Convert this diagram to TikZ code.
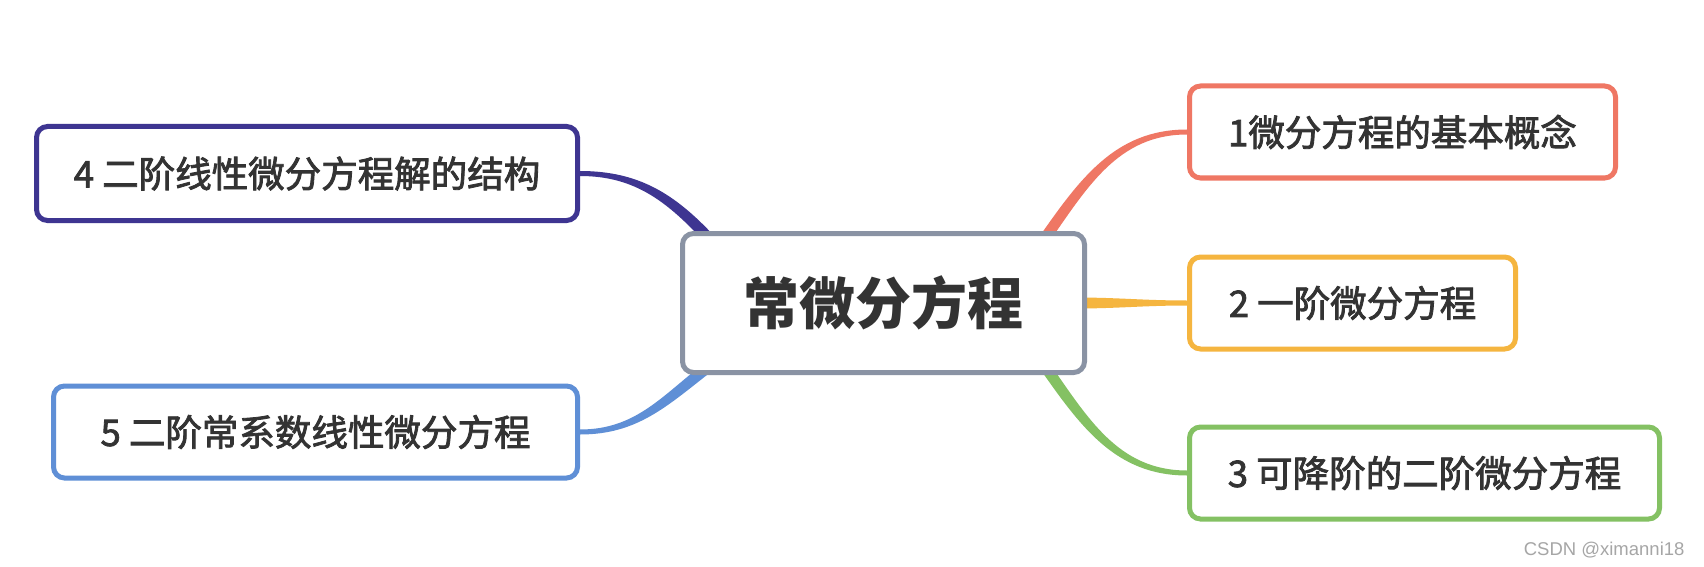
\documentclass[tikz,border=0pt]{standalone}
\usepackage{fontspec}
\usepackage{tikz}
\usetikzlibrary{positioning,calc,backgrounds}
\setsansfont{Liberation Sans}
\newfontfamily\cjk{Noto Sans CJK SC}
\newfontfamily\cjkmed{Noto Sans CJK SC}[FakeBold=2.2]
\definecolor{ink}{HTML}{333333}
\definecolor{hubgray}{HTML}{8A93A4}
\definecolor{br1}{HTML}{EF7764}
\definecolor{br2}{HTML}{F5B53F}
\definecolor{br3}{HTML}{84C163}
\definecolor{br4}{HTML}{3E3591}
\definecolor{br5}{HTML}{5F8FD6}

\tikzset{
  hub/.style={draw=hubgray,line width=5pt,rounded corners=11pt,fill=white,text=ink,
    font=\cjk\bfseries\fontsize{56}{60}\selectfont,minimum width=402pt,minimum height=139pt},
  topic/.style={draw=#1,line width=5pt,rounded corners=11pt,fill=white,text=ink,
    font=\cjkmed\fontsize{36.5}{42}\selectfont,minimum height=92pt,inner xsep=0pt}
}

% tapered branch: colour, start, out angle, end, in angle
\newcommand{\twig}[5]{%
  \fill[#1] ($(#2)+(#3+180:12pt)+(#3+90:5.5pt)$) to[out=#3,in=#5] ($(#4)+(#5-90:2.5pt)$)
    -- ($(#4)+(#5+90:2.5pt)$) to[out=#5,in=#3] ($(#2)+(#3+180:12pt)+(#3-90:5.5pt)$) -- cycle;}

\begin{document}
\begin{tikzpicture}[x=1pt,y=1pt]
\useasboundingbox (0,0) rectangle (1704,566);
\node (c0) [hub] at (883.5,263) {常微分方程};
\node (c1) [topic=br1,minimum width=426pt,right=100pt of c0,yshift=171pt] {1微分方程的基本概念};
\node (c2) [topic=br2,minimum width=326pt,right=100pt of c0] {2 一阶微分方程};
\node (c3) [topic=br3,minimum width=470pt,right=100pt of c0,yshift=-170pt] {3 可降阶的二阶微分方程};
\node (c4) [topic=br4,minimum width=541pt,minimum height=94pt,left=100pt of c0,yshift=129.5pt] {4 二阶线性微分方程解的结构};
\node (c5) [topic=br5,minimum width=524pt,left=100pt of c0,yshift=-129pt] {5 二阶常系数线性微分方程};
\node (mark) [anchor=east,text=black!35,font=\sffamily\fontsize{18.5}{20}\selectfont] at (1688,16) {CSDN @ximanni18};

\coordinate (s1) at ($(c0.north east)+(-37pt,0)$);
\coordinate (s3) at ($(c0.south east)+(-36pt,0)$);
\coordinate (s4) at ($(c0.north west)+(22pt,0)$);
\coordinate (s5) at ($(c0.south west)+(18pt,0)$);

\begin{scope}[on background layer]
\fill[white] (0,0) rectangle (1704,566);
\twig{br1}{s1}{55}{c1.west}{180}
\twig{br2}{c0.east}{0}{c2.west}{180}
\twig{br3}{s3}{-55}{c3.west}{180}
\twig{br4}{s4}{133}{c4.east}{0}
\twig{br5}{s5}{218}{c5.east}{0}
\end{scope}
\end{tikzpicture}
\end{document}
